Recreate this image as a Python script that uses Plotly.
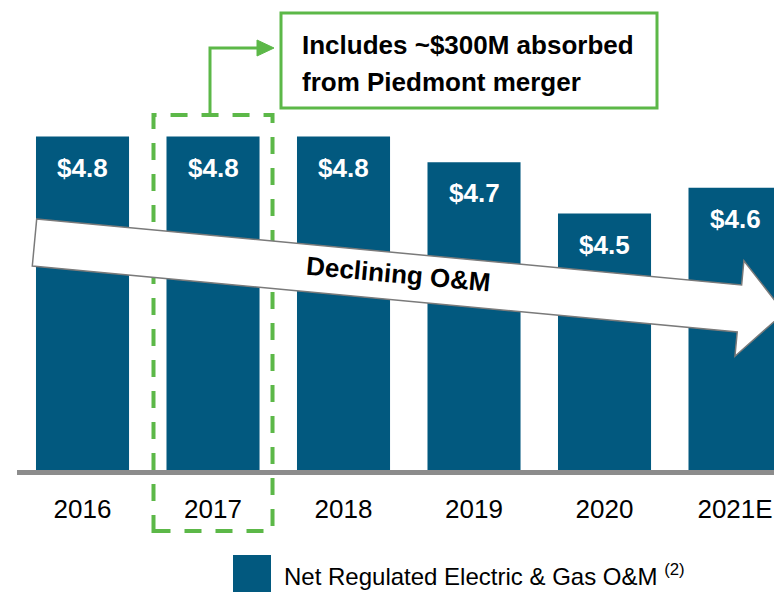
import math
import plotly.graph_objects as go

# ---- data ----
categories = ["2016", "2017", "2018", "2019", "2020", "2021E"]
om_values = [4.8, 4.8, 4.8, 4.7, 4.5, 4.6]
value_labels = ["$4.8", "$4.8", "$4.8", "$4.7", "$4.5", "$4.6"]
series_name = "Net Regulated Electric & Gas O&M"
series_note = "(2)"
callout_lines = ["Includes ~$300M absorbed", "from Piedmont merger"]
arrow_text = "Declining O&M"

# ---- style ----
BAR = "#02597f"
GREEN = "#5cb848"
GRAY = "#8c8c8c"
FONT = "Liberation Sans, Arial, sans-serif"

OFF = 8  # page body margin
W, H = 782 - OFF, 592 - OFF
L, R, T, B = 17 - OFF, 0, 0, 122
PW, PH = W - L - R, H - T - B
PX_PER_UNIT = 256.5


def X(px):
    return (px - OFF - L) / PW


def Y(py):
    return (T + PH - (py - OFF)) / PH


fig = go.Figure()
fig.add_trace(go.Bar(
    x=categories, y=om_values, base=0, name=series_name,
    marker=dict(color=BAR, line=dict(width=0)), width=0.713,
    showlegend=False, hoverinfo="skip",
))

shapes = []
annotations = []

# value labels inside bars
for i, (v, lab) in enumerate(zip(om_values, value_labels)):
    annotations.append(dict(
        x=i, y=v, xref="x", yref="y", text=lab, showarrow=False,
        yanchor="middle", yshift=-31,
        font=dict(family=FONT, size=26, color="white", weight="bold"),
    ))

# dashed highlight box around 2017
i17 = categories.index("2017")
shapes.append(dict(
    type="rect", xref="x", yref="paper",
    x0=i17 - 0.456, x1=i17 + 0.456, y0=Y(531), y1=Y(115),
    line=dict(color=GREEN, width=4, dash="17px,14px"),
    fillcolor="rgba(0,0,0,0)", layer="above",
))

# connector line + arrowhead to callout
shapes.append(dict(
    type="path", xref="paper", yref="paper",
    path=f"M{X(210)},{Y(113)} L{X(210)},{Y(48)} L{X(260)},{Y(48)}",
    line=dict(color=GREEN, width=3), layer="above",
))
shapes.append(dict(
    type="path", xref="paper", yref="paper",
    path=f"M{X(257)},{Y(40)} L{X(274)},{Y(48)} L{X(257)},{Y(56)} Z",
    line=dict(color=GREEN, width=1), fillcolor=GREEN, layer="above",
))

# callout box
shapes.append(dict(
    type="rect", xref="paper", yref="paper",
    x0=X(281), x1=X(657), y0=Y(108), y1=Y(13),
    line=dict(color=GREEN, width=3), fillcolor="white", layer="above",
))
for line_text, ly in zip(callout_lines, [45, 82]):
    annotations.append(dict(
        x=X(300), y=Y(ly), xref="paper", yref="paper", text=line_text,
        showarrow=False, xanchor="left", yanchor="middle", align="left",
        font=dict(family=FONT, size=26, color="black", weight="bold"),
    ))

# big declining arrow
theta = math.atan(0.0936)
cx, cy = 34.5, 242.5
ux, uy = math.cos(theta), math.sin(theta)
nx, ny = -math.sin(theta), math.cos(theta)
shaft_hw, head_hw, total_len, head_len = 23.6, 48.0, 753.0, 45.0


def pt(a, n):
    return cx + a * ux + n * nx, cy + a * uy + n * ny


pts = [pt(0, -shaft_hw), pt(total_len - head_len, -shaft_hw),
       pt(total_len - head_len, -head_hw), pt(total_len, 0),
       pt(total_len - head_len, head_hw), pt(total_len - head_len, shaft_hw),
       pt(0, shaft_hw)]
path = "M" + " L".join(f"{X(px)},{Y(py)}" for px, py in pts) + " Z"
shapes.append(dict(
    type="path", xref="paper", yref="paper", path=path,
    line=dict(color="#7a7a7a", width=1.5), fillcolor="white", layer="above",
))
annotations.append(dict(
    x=X(398), y=Y(274), xref="paper", yref="paper", text=arrow_text,
    showarrow=False, xanchor="center", yanchor="middle",
    textangle=math.degrees(theta),
    font=dict(family=FONT, size=26, color="black", weight="bold"),
))

# legend (manual)
shapes.append(dict(
    type="rect", xref="paper", yref="paper",
    x0=X(233), x1=X(271), y0=Y(605), y1=Y(555),
    line=dict(width=0), fillcolor=BAR, layer="above",
))
annotations.append(dict(
    x=X(282), y=Y(575), xref="paper", yref="paper",
    text=f"{series_name} <sup>{series_note}</sup>",
    showarrow=False, xanchor="left", yanchor="middle",
    font=dict(family=FONT, size=24, color="black"),
))

fig.update_layout(
    width=W, height=H,
    margin=dict(l=L, r=R, t=T, b=B, pad=0),
    paper_bgcolor="white", plot_bgcolor="white",
    shapes=shapes, annotations=annotations,
    showlegend=False,
    xaxis=dict(
        type="category", range=[-0.502, 5.36], showgrid=False, zeroline=False,
        showline=True, linecolor=GRAY, linewidth=5, ticks="",
        tickfont=dict(family=FONT, size=26, color="black"),
        ticklabelstandoff=12, fixedrange=True,
    ),
    yaxis=dict(range=[3.5, 3.5 + PH / PX_PER_UNIT], visible=False,
               fixedrange=True),
)

fig.write_html("out.html")
